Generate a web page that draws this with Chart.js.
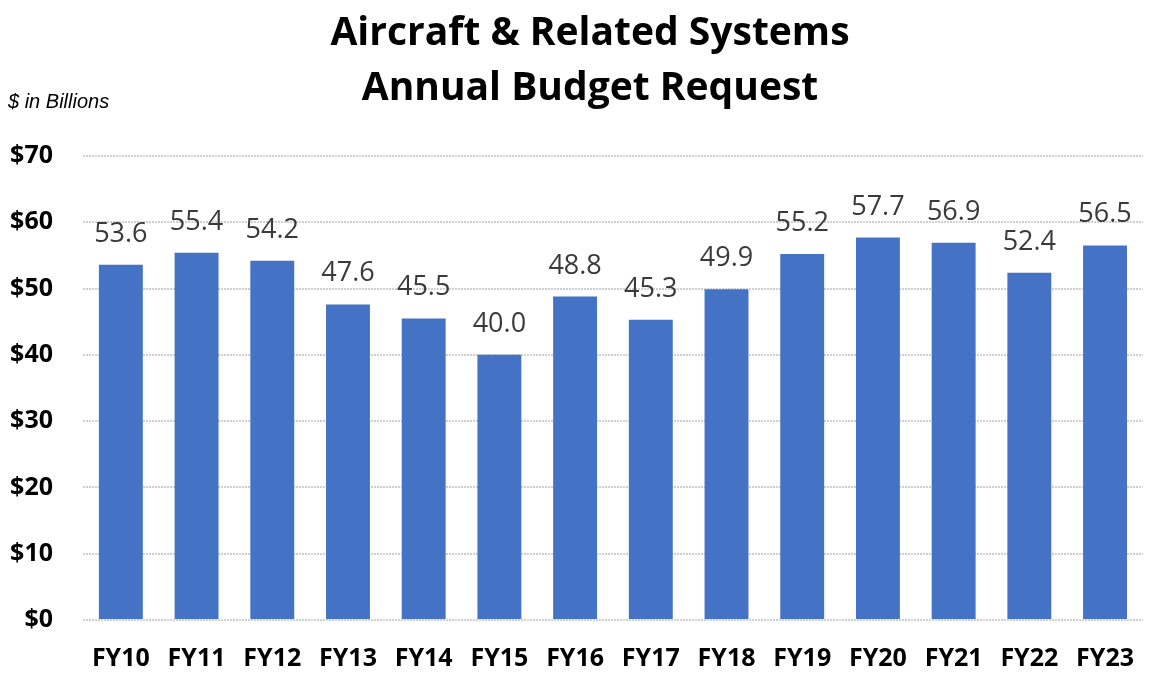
<!DOCTYPE html>
<html>
<head>
<meta charset="utf-8">
<script src="https://cdn.jsdelivr.net/npm/chart.js@4.4.1/dist/chart.umd.min.js"></script>
<style>
  html, body { margin: 0; padding: 0; background: #fff; }
  #wrap { width: 1158px; height: 673px; position: relative; }
</style>
</head>
<body>
<div id="wrap"><canvas id="chart"></canvas></div>
<script>
// datos del grafico
const years = ["FY10", "FY11", "FY12", "FY13", "FY14", "FY15", "FY16", "FY17", "FY18", "FY19", "FY20", "FY21", "FY22", "FY23"]
const budget = [53.6, 55.4, 54.2, 47.6, 45.5, 40.0, 48.8, 45.3, 49.9, 55.2, 57.7, 56.9, 52.4, 56.5]
const titleLines = ["Aircraft & Related Systems", "Annual Budget Request"]
const unitsNote = "$ in Billions"

// titulo, nota de unidades y etiquetas sobre las barras
const extrasPlugin = {
    id: "extras",
    afterDatasetsDraw(chart) {
        const ctx = chart.ctx
        ctx.save()
        ctx.fillStyle = "#000"
        ctx.textAlign = "center"
        ctx.textBaseline = "alphabetic"
        ctx.font = "bold 39px 'Open Sans'"
        ctx.fillText(titleLines[0], 590, 45)
        ctx.fillText(titleLines[1], 590, 100)

        ctx.font = "italic 20px 'Liberation Sans'"
        ctx.textAlign = "left"
        ctx.fillText(unitsNote, 8, 108)

        ctx.font = "27px 'Open Sans'"
        ctx.fillStyle = "#3a3a3a"
        ctx.textAlign = "center"
        const meta = chart.getDatasetMeta(0)
        meta.data.forEach((bar, i) => {
            ctx.fillText(budget[i].toFixed(1), bar.x, bar.y - 23)
        })
        ctx.restore()
    }
}

new Chart(document.getElementById("chart").getContext("2d"), {
    type: "bar",
    data: {
        labels: years,
        datasets: [{
            label: "Budget",
            data: budget,
            backgroundColor: "#4472C4",
            categoryPercentage: 1,
            barPercentage: 0.58
        }]
    },
    options: {
        responsive: true,
        maintainAspectRatio: false,
        animation: false,
        layout: { padding: { top: 156, left: 8, right: 0, bottom: 0 } },
        plugins: {
            legend: { display: false },
            tooltip: { enabled: false },
            title: { display: false }
        },
        scales: {
            x: {
                afterFit: (scale) => { scale.height = 53 },
                grid: { display: false, drawTicks: false },
                border: { display: false },
                ticks: {
                    color: "#000",
                    padding: 24,
                    font: { family: "'Open Sans'", size: 25, weight: "bold" }
                }
            },
            y: {
                min: 0,
                max: 70,
                afterFit: (scale) => { scale.width = 75 },
                grid: { color: "#cfcfcf", lineWidth: 2, drawTicks: false },
                border: { display: false, dash: [2, 1] },
                ticks: {
                    stepSize: 10,
                    color: "#000",
                    padding: 30,
                    font: { family: "'Open Sans'", size: 25, weight: "bold" },
                    callback: (v) => "$" + v
                }
            }
        }
    },
    plugins: [extrasPlugin]
})
</script>
</body>
</html>
